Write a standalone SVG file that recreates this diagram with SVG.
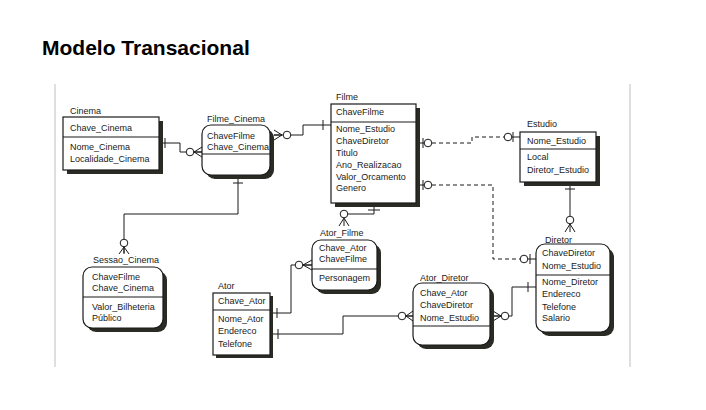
<svg xmlns="http://www.w3.org/2000/svg" width="706" height="410" viewBox="0 0 706 410">
<style>
text{font-family:"Liberation Sans",Arial,sans-serif;font-size:9px;fill:#1a1a1a}
.title{font-size:21px;font-weight:bold;fill:#000}
.box{fill:#fff;stroke:#1a1a1a;stroke-width:1.2}
.sh{fill:#2b2b25}
.div{stroke:#1a1a1a;stroke-width:1.1}
.ln{fill:none;stroke:#1a1a1a;stroke-width:1}
.dash{fill:none;stroke:#1a1a1a;stroke-width:1;stroke-dasharray:4 3}
.c{fill:#fff;stroke:#1a1a1a;stroke-width:1}
.frame{stroke:#d4d4d4;stroke-width:1.5}
</style>
<rect width="706" height="410" fill="#fff"/>
<text class="title" x="42" y="55">Modelo Transacional</text>
<line class="frame" x1="55" y1="84" x2="55" y2="367"/>
<line class="frame" x1="630" y1="84" x2="630" y2="367"/>

<g id="connectors">
  <!-- Cinema - Filme_Cinema -->
  <path class="ln" d="M159,143 H180 V152 H202"/>
  <line class="ln" x1="165" y1="138" x2="165" y2="148"/>
  <path class="ln" d="M194,152 L202,147 M194,152 L202,152 M194,152 L202,157"/>
  <circle class="c" cx="190" cy="152" r="3.8"/>
  <!-- Filme_Cinema - Filme -->
  <path class="ln" d="M274,135 H303 V125 H331"/>
  <line class="ln" x1="323" y1="120" x2="323" y2="130"/>
  <path class="ln" d="M282,135 L274,130 M282,135 L274,135 M282,135 L274,140"/>
  <circle class="c" cx="287" cy="135" r="3.8"/>
  <!-- Filme_Cinema - Sessao_Cinema -->
  <path class="ln" d="M238,179 V214 H124 V253"/>
  <line class="ln" x1="233" y1="183" x2="243" y2="183"/>
  <path class="ln" d="M124,247 L119,254 M124,247 L124,254 M124,247 L129,254"/>
  <circle class="c" cx="124" cy="243" r="3.8"/>
  <!-- Filme - Estudio (dashed) -->
  <path class="ln" d="M420,143 H424"/>
  <line class="ln" x1="423" y1="138" x2="423" y2="148"/>
  <circle class="c" cx="428" cy="143" r="3.8"/>
  <path class="dash" d="M432,143 H472 V137 H504"/>
  <circle class="c" cx="508" cy="137" r="3.8"/>
  <line class="ln" x1="513" y1="132" x2="513" y2="142"/>
  <path class="ln" d="M512,137 H520"/>
  <!-- Filme - Diretor (dashed) -->
  <path class="ln" d="M420,185 H424"/>
  <line class="ln" x1="423" y1="180" x2="423" y2="190"/>
  <circle class="c" cx="428" cy="185" r="3.8"/>
  <path class="dash" d="M432,185 H493 V259 H520"/>
  <circle class="c" cx="524" cy="259" r="3.8"/>
  <line class="ln" x1="530" y1="254" x2="530" y2="264"/>
  <path class="ln" d="M528,259 H536"/>
  <!-- Estudio - Diretor -->
  <path class="ln" d="M570,185 V216"/>
  <line class="ln" x1="565" y1="189" x2="575" y2="189"/>
  <circle class="c" cx="570" cy="220" r="3.8"/>
  <path class="ln" d="M570,224 L565,232 M570,224 L570,232 M570,224 L575,232"/>
  <!-- Ator_Diretor - Diretor -->
  <path class="ln" d="M494,316 H512 V287 H536"/>
  <line class="ln" x1="528" y1="282" x2="528" y2="292"/>
  <path class="ln" d="M501,316 L493,311 M501,316 L493,316 M501,316 L493,321"/>
  <circle class="c" cx="505" cy="316" r="3.8"/>
  <!-- Ator - Ator_Diretor -->
  <path class="ln" d="M273,334 H343 V316 H413"/>
  <line class="ln" x1="278" y1="329" x2="278" y2="339"/>
  <circle class="c" cx="402" cy="316" r="3.8"/>
  <path class="ln" d="M406,316 L413,311 M406,316 L413,316 M406,316 L413,321"/>
  <!-- Ator - Ator_Filme -->
  <path class="ln" d="M273,313 H291 V265 H312"/>
  <line class="ln" x1="277" y1="308" x2="277" y2="318"/>
  <circle class="c" cx="299" cy="265" r="3.8"/>
  <path class="ln" d="M303,265 L312,260 M303,265 L312,265 M303,265 L312,270"/>
  <!-- Filme - Ator_Filme -->
  <path class="ln" d="M374,207 V214 H348"/>
  <line class="ln" x1="368" y1="210" x2="380" y2="210"/>
  <circle class="c" cx="344" cy="214" r="3.8"/>
  <path class="ln" d="M344,218 L339,226 M344,218 L344,226 M344,218 L349,226"/>
</g>

<g id="Cinema">
  <rect class="sh" x="67" y="121" width="96" height="53"/>
  <rect class="box" x="63" y="117" width="96" height="53"/>
  <line class="div" x1="63" y1="137" x2="159" y2="137"/>
  <text x="70" y="114">Cinema</text>
  <text x="70" y="131">Chave_Cinema</text>
  <text x="70" y="150">Nome_Cinema</text>
  <text x="70" y="162">Localidade_Cinema</text>
</g>

<g id="Filme_Cinema">
  <rect class="sh" x="206" y="129" width="68" height="50" rx="9"/>
  <rect class="box" x="202" y="125" width="68" height="50" rx="9"/>
  <line class="div" x1="202" y1="154" x2="270" y2="154"/>
  <text x="207" y="122">Filme_Cinema</text>
  <text x="207" y="138.5">ChaveFilme</text>
  <text x="207" y="150">Chave_Cinema</text>
</g>

<g id="Filme">
  <rect class="sh" x="335" y="108" width="85" height="99"/>
  <rect class="box" x="331" y="104" width="85" height="99"/>
  <line class="div" x1="331" y1="122" x2="416" y2="122"/>
  <text x="336" y="100">Filme</text>
  <text x="336" y="115">ChaveFilme</text>
  <text x="336" y="132">Nome_Estudio</text>
  <text x="336" y="144">ChaveDiretor</text>
  <text x="336" y="155.5">Titulo</text>
  <text x="336" y="168">Ano_Realizacao</text>
  <text x="336" y="180">Valor_Orcamento</text>
  <text x="336" y="191">Genero</text>
</g>

<g id="Estudio">
  <rect class="sh" x="524" y="136" width="76" height="50"/>
  <rect class="box" x="520" y="132" width="76" height="50"/>
  <line class="div" x1="520" y1="149" x2="596" y2="149"/>
  <text x="527" y="127">Estudio</text>
  <text x="527" y="143.5">Nome_Estudio</text>
  <text x="527" y="160">Local</text>
  <text x="527" y="172.5">Diretor_Estudio</text>
</g>

<g id="Sessao_Cinema">
  <rect class="sh" x="87" y="271" width="80" height="61" rx="9"/>
  <rect class="box" x="83" y="267" width="80" height="61" rx="9"/>
  <line class="div" x1="83" y1="297" x2="163" y2="297"/>
  <text x="93" y="262.5">Sessao_Cinema</text>
  <text x="92" y="280">ChaveFilme</text>
  <text x="92" y="291">Chave_Cinema</text>
  <text x="92" y="310">Valor_Bilheteria</text>
  <text x="92" y="321">Público</text>
</g>

<g id="Ator_Filme">
  <rect class="sh" x="316" y="244" width="65" height="50" rx="9"/>
  <rect class="box" x="312" y="240" width="65" height="50" rx="9"/>
  <line class="div" x1="312" y1="269" x2="377" y2="269"/>
  <text x="320" y="235.5">Ator_Filme</text>
  <text x="319" y="250.5">Chave_Ator</text>
  <text x="319" y="261.5">ChaveFilme</text>
  <text x="319" y="280.5">Personagem</text>
</g>

<g id="Ator">
  <rect class="sh" x="216" y="296" width="57" height="62"/>
  <rect class="box" x="213" y="293" width="57" height="62"/>
  <line class="div" x1="213" y1="310" x2="270" y2="310"/>
  <text x="218" y="288.5">Ator</text>
  <text x="218" y="303.5">Chave_Ator</text>
  <text x="218" y="321.5">Nome_Ator</text>
  <text x="218" y="333.5">Endereco</text>
  <text x="218" y="346.5">Telefone</text>
</g>

<g id="Ator_Diretor">
  <rect class="sh" x="417" y="287" width="77" height="62" rx="9"/>
  <rect class="box" x="413" y="283" width="77" height="62" rx="9"/>
  <line class="div" x1="413" y1="326" x2="490" y2="326"/>
  <text x="420" y="280.5">Ator_Diretor</text>
  <text x="420" y="295.5">Chave_Ator</text>
  <text x="420" y="307.5">ChaveDiretor</text>
  <text x="420" y="320.5">Nome_Estudio</text>
</g>

<g id="Diretor">
  <rect class="sh" x="540" y="248" width="74" height="88" rx="9"/>
  <rect class="box" x="536" y="244" width="74" height="88" rx="9"/>
  <line class="div" x1="536" y1="275" x2="610" y2="275"/>
  <text x="545" y="242.5">Diretor</text>
  <text x="542" y="255.5">ChaveDiretor</text>
  <text x="542" y="268.5">Nome_Estudio</text>
  <text x="542" y="284.5">Nome_Diretor</text>
  <text x="542" y="296.5">Endereco</text>
  <text x="542" y="309.5">Telefone</text>
  <text x="542" y="320.5">Salario</text>
</g>
</svg>
